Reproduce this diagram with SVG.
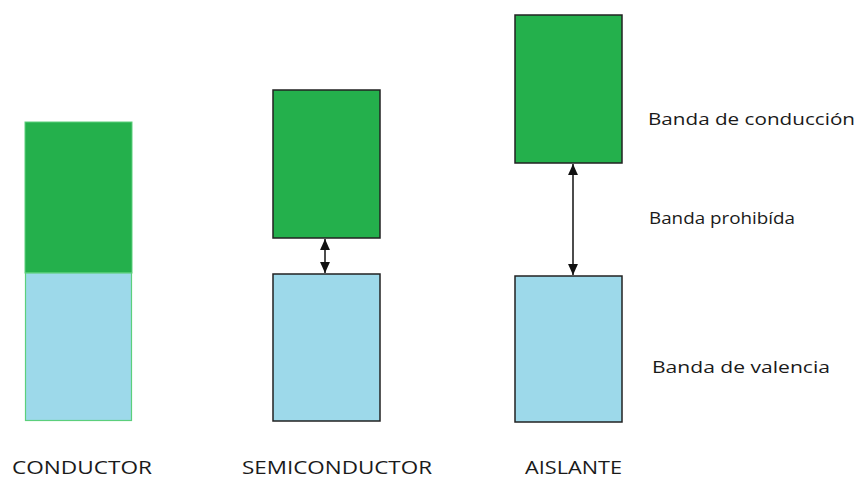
<svg xmlns="http://www.w3.org/2000/svg" width="859" height="479" viewBox="0 0 859 479">
<style>
.cb{fill:#24b04c}
.vb{fill:#9dd9ea}
.bd{stroke:#222;stroke-width:1.5}
.lbl{font-family:"Open Sans","DejaVu Sans",sans-serif;fill:#1a1a1a}
.cap{font-family:"Open Sans","DejaVu Sans",sans-serif;fill:#1a1a1a;font-size:18px}
.ar{stroke:#111;stroke-width:1.5;fill:none}
</style>
<defs>
<marker id="ah" viewBox="0 0 10 9" refX="10" refY="4.5" markerWidth="7.5" markerHeight="6.75" orient="auto-start-reverse" markerUnits="strokeWidth">
<path d="M0,0 L10,4.5 L0,9 z" fill="#111"/>
</marker>
</defs>
<rect width="859" height="479" fill="#fff"/>
<g id="conductor">
<rect class="cb" x="25" y="122" width="107" height="151" stroke="#5ccf7c" stroke-width="1"/>
<rect class="vb" x="25.5" y="273" width="106" height="147.5" stroke="#5ccf7c" stroke-width="1.2"/>
<text class="cap" x="12" y="474" textLength="140" lengthAdjust="spacingAndGlyphs">CONDUCTOR</text>
</g>
<g id="semiconductor">
<rect class="cb bd" x="273" y="90" width="107" height="148"/>
<rect class="vb bd" x="273" y="274" width="107" height="147"/>
<text class="cap" x="242" y="474" textLength="190" lengthAdjust="spacingAndGlyphs">SEMICONDUCTOR</text>
</g>
<g id="aislante">
<rect class="cb bd" x="515" y="15" width="107" height="148"/>
<rect class="vb bd" x="515" y="276" width="107" height="146"/>
<text class="cap" x="525" y="474" textLength="97" lengthAdjust="spacingAndGlyphs">AISLANTE</text>
</g>
<g id="connectors">
<line class="ar" x1="325" y1="239" x2="325" y2="273" marker-start="url(#ah)" marker-end="url(#ah)"/>
<line class="ar" x1="573" y1="164" x2="573" y2="275" marker-start="url(#ah)" marker-end="url(#ah)"/>
</g>
<g id="legend">
<text class="lbl" x="648" y="125" font-size="17" textLength="207" lengthAdjust="spacingAndGlyphs">Banda de conducción</text>
<text class="lbl" x="649" y="224" font-size="15.5" textLength="146" lengthAdjust="spacingAndGlyphs">Banda prohibída</text>
<text class="lbl" x="652" y="373" font-size="17" textLength="178" lengthAdjust="spacingAndGlyphs">Banda de valencia</text>
</g>
</svg>
